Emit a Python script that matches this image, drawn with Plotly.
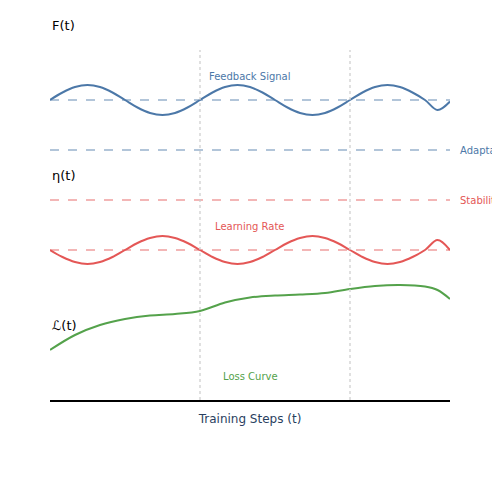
import plotly.graph_objects as go

# sampled every 0.25 step
steps = [i * 0.25 for i in range(33)]
feedback = [6.0, 6.15, 6.26, 6.3, 6.26, 6.15, 6.0, 5.85, 5.74, 5.7, 5.74, 5.85,
            6.0, 6.15, 6.26, 6.3, 6.26, 6.15, 6.0, 5.85, 5.74, 5.7, 5.74, 5.85,
            6.0, 6.15, 6.26, 6.3, 6.26, 6.15, 6.0, 5.8, 5.97]
learning = [3.0, 2.86, 2.76, 2.72, 2.76, 2.86, 3.0, 3.14, 3.24, 3.28, 3.24, 3.14,
            3.0, 2.86, 2.76, 2.72, 2.76, 2.86, 3.0, 3.14, 3.24, 3.28, 3.24, 3.14,
            3.0, 2.86, 2.76, 2.72, 2.76, 2.86, 3.0, 3.2, 3.0]
loss_x = [0, 0.5, 1, 1.5, 2, 2.5, 3, 3.5, 4, 4.5, 5, 5.5, 6, 6.5, 7, 7.5, 7.75, 8]
loss = [1.0, 1.3, 1.5, 1.62, 1.69, 1.72, 1.78, 1.95, 2.05, 2.09, 2.11, 2.14,
        2.22, 2.28, 2.3, 2.27, 2.2, 2.02]

blue, red, green = "#4c78a8", "#e45756", "#54a24b"

fig = go.Figure()
for yv, c in [(6, blue), (5, blue), (4, red), (3, red)]:
    fig.add_hline(y=yv, line=dict(color=c, width=1.2, dash="dash"), opacity=0.85)
for xv in [3, 6]:
    fig.add_shape(type="line", x0=xv, x1=xv, y0=0, y1=7,
                  line=dict(color="#cccccc", width=1.2, dash="dot"))

fig.add_trace(go.Scatter(x=steps, y=feedback, mode="lines", line=dict(color=blue, width=2, shape="spline")))
fig.add_trace(go.Scatter(x=steps, y=learning, mode="lines", line=dict(color=red, width=2, shape="spline")))
fig.add_trace(go.Scatter(x=loss_x, y=loss, mode="lines", line=dict(color=green, width=2, shape="spline")))

notes = [(4, 6.48, "Feedback Signal", blue, "center"),
         (4, 3.48, "Learning Rate", red, "center"),
         (4, 0.48, "Loss Curve", green, "center"),
         (0, 7.5, "F(t)", "black", "left"),
         (0, 4.5, "η(t)", "black", "left"),
         (0, 1.5, "ℒ(t)", "black", "left")]
for x, y, t, c, a in notes:
    fig.add_annotation(x=x, y=y, text=t, showarrow=False, xanchor=a,
                       font=dict(color=c, size=13 if c == "black" else 10))
for y, t, c in [(5, "Adaptation", blue), (4, "Stability", red)]:
    fig.add_annotation(xref="paper", x=1.02, y=y, text=t, showarrow=False,
                       xanchor="left", font=dict(color=c, size=10))

fig.update_layout(
    width=500, height=500, showlegend=False,
    plot_bgcolor="white", paper_bgcolor="white",
    font=dict(family="DejaVu Sans"),
    margin=dict(l=42, r=58, t=0, b=108),
    xaxis=dict(range=[0, 8], showgrid=False, zeroline=False, showticklabels=False,
               showline=True, linecolor="black", linewidth=2,
               title=dict(text="Training Steps (t)", font=dict(size=12), standoff=14)),
    yaxis=dict(range=[0, 7.84], showgrid=False, zeroline=False, showticklabels=False),
)
fig.write_html("out.html")
